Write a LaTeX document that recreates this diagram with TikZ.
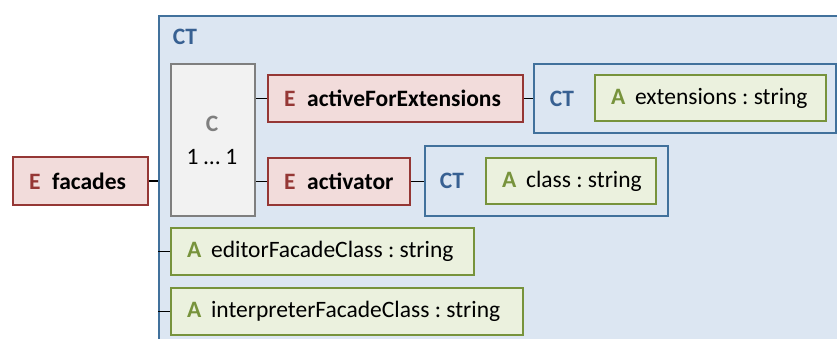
\documentclass[tikz,border=0pt]{standalone}
\usepackage{fontspec}
\setmainfont{Carlito}
\frenchspacing
\definecolor{ered}{HTML}{953735}
\definecolor{efill}{HTML}{F2DCDB}
\definecolor{ctblue}{HTML}{41719C}
\definecolor{cttext}{HTML}{376092}
\definecolor{ctfill}{HTML}{DCE6F2}
\definecolor{agreen}{HTML}{77933C}
\definecolor{afill}{HTML}{EBF1DE}
\definecolor{cgray}{HTML}{7F7F7F}
\definecolor{cfill}{HTML}{F2F2F2}
\newcommand{\dfont}{\fontsize{23.5}{28}\selectfont}
\tikzset{
  basebox/.style={anchor=north west, line width=2pt, inner xsep=16pt, inner ysep=0pt, font=\dfont},
  ebox/.style={basebox, draw=ered, fill=efill},
  abox/.style={basebox, draw=agreen, fill=afill},
  ctbox/.style={anchor=north west, draw=ctblue, fill=ctfill, line width=2pt, inner sep=0pt},
  ctlabel/.style={text=cttext, font=\dfont\bfseries},
  conn/.style={line width=1.5pt, black},
}
\newcommand{\ekind}{\textcolor{ered}{\bfseries E}\hspace{0.5em}}
\newcommand{\akind}{\textcolor{agreen}{\bfseries A}\hspace{0.42em}}
\newcommand{\boxtext}[2]{\makebox[#1][l]{#2}}
\begin{document}
\begin{tikzpicture}[x=1pt,y=-1pt]
\useasboundingbox (0,0) rectangle (837,338);
% outer CT box
\node[ctbox, minimum width=720pt, minimum height=360pt] (outer) at (158,15) {};
\node[ctlabel] (outerct) at (185,37) {CT};
% choice box
\node[anchor=north west, draw=cgray, fill=cfill, line width=2pt, minimum width=84pt, minimum height=152pt, inner sep=0pt] (cbox) at (170,63) {};
\node[text=cgray, font=\dfont\bfseries] (clab) at (212,124) {C};
\node[font=\dfont] (cmult) at (212,157) {1 … 1};
% facades
\node[ebox, minimum height=48pt] (facades) at (12,156) {\boxtext{103pt}{\ekind\textbf{facades}}};
% activeForExtensions
\node[ebox, minimum height=47pt] (afe) at (267,74) {\boxtext{223pt}{\ekind\textbf{activeForExtensions}}};
% CT for extensions
\node[ctbox, minimum width=302pt, minimum height=69pt] (ct1) at (533,63) {};
\node[ctlabel] (ct1lab) at (562,99) {CT};
\node[abox, minimum height=46pt] (ext) at (594,74) {\boxtext{199pt}{\akind extensions : string}};
% activator
\node[ebox, minimum height=47pt] (activator) at (267,157) {\boxtext{110pt}{\ekind\textbf{activator}}};
% CT for activator
\node[ctbox, minimum width=243pt, minimum height=70pt] (ct2) at (424,145) {};
\node[ctlabel] (ct2lab) at (452,181) {CT};
\node[abox, minimum height=46pt] (cls) at (485,157) {\boxtext{138pt}{\akind class : string}};
% attributes
\node[abox, minimum height=47pt] (editor) at (170,227) {\boxtext{271pt}{\akind editorFacadeClass : string}};
\node[abox, minimum height=47pt] (interp) at (170,287) {\boxtext{320pt}{\akind interpreterFacadeClass : string}};
% connectors
\draw[conn] (facades.east) -- (facades.east -| outer.west);
\draw[conn] (afe.west -| cbox.east) -- (afe.west);
\draw[conn] (activator.west -| cbox.east) -- (activator.west);
\draw[conn] (afe.east) -- (afe.east -| ct1.west);
\draw[conn] (activator.east) -- (activator.east -| ct2.west);
\draw[conn] (editor.west -| outer.west) -- (editor.west);
\draw[conn] (interp.west -| outer.west) -- (interp.west);
\end{tikzpicture}
\end{document}
